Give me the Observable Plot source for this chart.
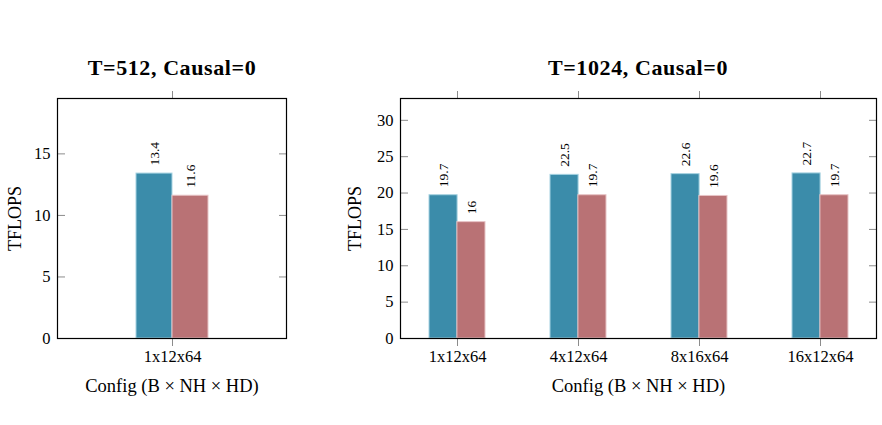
<!DOCTYPE html>
<html>
<head>
<meta charset="utf-8">
<script src="https://cdn.jsdelivr.net/npm/d3@7"></script>
<script src="https://cdn.jsdelivr.net/npm/@observablehq/plot@0.6"></script>
<style>
  html, body { margin: 0; padding: 0; background: #fff; }
  body { position: relative; width: 882px; height: 425px; overflow: hidden; font-family: "Liberation Serif", serif; color: #000; }
  .panel { position: absolute; }
  .title { position: absolute; font-weight: bold; font-size: 22px; white-space: nowrap; transform: translate(-50%, -50%); letter-spacing: 0.6px; }
</style>
</head>
<body>
<div class="title" style="left:172px; top:68px">T=512, Causal=0</div>
<div class="title" style="left:638px; top:68px">T=1024, Causal=0</div>
<div id="p512" class="panel" style="left:0px; top:80px"></div>
<div id="p1024" class="panel" style="left:340px; top:80px"></div>
<script>
// Configurations (B x NH x HD) and measured TFLOPS for the two kernels
const configs512 = ["1x12x64"];
const seriesA512 = [13.4];
const seriesB512 = [11.6];

const configs1024 = ["1x12x64", "4x12x64", "8x16x64", "16x12x64"];
const seriesA1024 = [19.7, 22.5, 22.6, 22.7];
const seriesB1024 = [16, 19.7, 19.6, 19.7];

const yTicks512 = [0, 5, 10, 15];
const yTicks1024 = [0, 5, 10, 15, 20, 25, 30];

const xLabel = "Config (B \u00d7 NH \u00d7 HD)";
const yLabel = "TFLOPS";

const colorA = "#3b8caa", edgeA = "#a6d2e1";
const colorB = "#b97275", edgeB = "#e7c4c6";

// width of one category band, following d3's band scale layout
function bandwidth(n, paddingInner, paddingOuter, range) {
  const step = range / (n - paddingInner + 2 * paddingOuter);
  return step * (1 - paddingInner);
}

function panel({configs, a, b, yMax, yTicks, width, height, margin, paddingInner, paddingOuter}) {
  const rows = configs.map((config, i) => ({config, a: a[i], b: b[i]}));
  const range = width - margin.left - margin.right;
  const half = bandwidth(configs.length, paddingInner, paddingOuter, range) / 2;
  const fmt = v => String(v);
  return Plot.plot({
    width, height,
    marginLeft: margin.left, marginRight: margin.right,
    marginTop: margin.top, marginBottom: margin.bottom,
    style: {fontFamily: "'Liberation Serif', serif", fontSize: "16.5px", color: "#000", background: "#fff", overflow: "visible"},
    x: {domain: configs, paddingInner, paddingOuter, align: 0.5, label: null},
    y: {domain: [0, yMax], label: null},
    marks: [
      Plot.barY(rows, {x: "config", y: "a", fill: colorA, stroke: edgeA, strokeWidth: 1, insetRight: half}),
      Plot.barY(rows, {x: "config", y: "b", fill: colorB, stroke: edgeB, strokeWidth: 1, insetLeft: half}),
      Plot.text(rows, {x: "config", y: "a", text: d => fmt(d.a), rotate: -90, textAnchor: "start", lineAnchor: "middle", dx: -half / 2, dy: -8, fontSize: 13.5}),
      Plot.text(rows, {x: "config", y: "b", text: d => fmt(d.b), rotate: -90, textAnchor: "start", lineAnchor: "middle", dx: half / 2, dy: -8, fontSize: 13.5}),
      // tick labels outside, tick marks inside on left and right
      Plot.axisY({ticks: yTicks, tickSize: 0, tickPadding: 7, label: null}),
      Plot.axisY({ticks: yTicks, tickSize: 8, dx: 8, tickFormat: () => "", label: null, stroke: "#8c8c8c"}),
      Plot.axisY({anchor: "right", ticks: yTicks, tickSize: 8, dx: -8, tickFormat: () => "", label: null, stroke: "#8c8c8c"}),
      Plot.axisX({anchor: "bottom", tickSize: 8, tickPadding: 4, label: null, stroke: "#8c8c8c"}),
      Plot.axisX({anchor: "top", tickSize: 8, tickFormat: () => "", label: null, stroke: "#8c8c8c"}),
      Plot.frame({stroke: "#000", strokeWidth: 1.2}),
      Plot.text([xLabel], {frameAnchor: "bottom", textAnchor: "middle", lineAnchor: "middle", dy: 48, fontSize: 18.5}),
      Plot.text([yLabel], {frameAnchor: "left", rotate: -90, textAnchor: "middle", lineAnchor: "middle", dx: -margin.left + 15, fontSize: 18})
    ]
  });
}

document.getElementById("p512").append(panel({
  configs: configs512, a: seriesA512, b: seriesB512,
  yMax: 19.5, yTicks: yTicks512,
  width: 300, height: 318,
  margin: {left: 57, right: 14, top: 18, bottom: 60},
  paddingInner: 0.5, paddingOuter: 0.545
}));

document.getElementById("p1024").append(panel({
  configs: configs1024, a: seriesA1024, b: seriesB1024,
  yMax: 33, yTicks: yTicks1024,
  width: 542, height: 318,
  margin: {left: 60, right: 6, top: 18, bottom: 60},
  paddingInner: 0.54, paddingOuter: 0.232
}));
</script>
</body>
</html>
